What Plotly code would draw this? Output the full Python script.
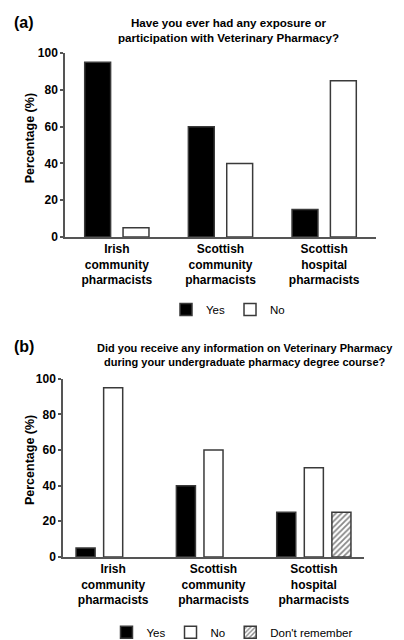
import plotly.graph_objects as go

# ---- data ----
categories = ["Irish<br>community<br>pharmacists",
              "Scottish<br>community<br>pharmacists",
              "Scottish<br>hospital<br>pharmacists"]
a_yes = [95, 60, 15]
a_no = [5, 40, 85]
b_yes = [5, 40, 25]
b_no = [95, 60, 50]
b_dont = [None, None, 25]
y_ticks = [0, 20, 40, 60, 80, 100]

FONT = "Arial, Liberation Sans, sans-serif"
EDGE = "#3a3a3a"
AX = "#555555"
W, H = 404, 640
OFF = 8  # page body margin


def px(x):
    return (x - OFF) / W


def py(y):
    return 1 - (y - OFF) / H


fig = go.Figure()

# panel (a)
fig.add_trace(go.Bar(x=categories, y=a_yes, name="Yes", width=0.25, offset=-0.31,
                     marker=dict(color="black", line=dict(color=EDGE, width=1.5)),
                     xaxis="x", yaxis="y", legend="legend"))
fig.add_trace(go.Bar(x=categories, y=a_no, name="No", width=0.25, offset=0.06,
                     marker=dict(color="white", line=dict(color=EDGE, width=1.5)),
                     xaxis="x", yaxis="y", legend="legend"))

# panel (b)
fig.add_trace(go.Bar(x=categories, y=b_yes, name="Yes", width=0.19, offset=-0.37,
                     marker=dict(color="black", line=dict(color=EDGE, width=1.5)),
                     xaxis="x2", yaxis="y2", legend="legend2"))
fig.add_trace(go.Bar(x=categories, y=b_no, name="No", width=0.19, offset=-0.095,
                     marker=dict(color="white", line=dict(color=EDGE, width=1.5)),
                     xaxis="x2", yaxis="y2", legend="legend2"))
fig.add_trace(go.Bar(x=categories, y=b_dont, name="Don't remember", width=0.19, offset=0.18,
                     marker=dict(color="white", line=dict(color=EDGE, width=1.5),
                                 pattern=dict(shape="/", fgcolor="#111111", bgcolor="white",
                                              size=4, solidity=0.45)),
                     xaxis="x2", yaxis="y2", legend="legend2"))

xcommon = dict(type="category", range=[-0.5, 2.5], showline=True, linecolor=AX, linewidth=1.5,
               ticks="", showgrid=False, zeroline=False,
               tickfont=dict(family=FONT, size=12, color="black", weight="bold"))
ycommon = dict(range=[0, 100], tickvals=y_ticks, showline=True, linecolor=AX, linewidth=1.5,
               ticks="outside", ticklen=3, tickcolor=AX, tickwidth=1.5, showgrid=False,
               zeroline=False, tickfont=dict(family=FONT, size=12, color="black", weight="bold"))

fig.update_layout(
    width=W, height=H,
    margin=dict(l=0, r=0, t=0, b=0),
    paper_bgcolor="white", plot_bgcolor="white",
    barmode="overlay",
    font=dict(family=FONT, color="black"),
    xaxis=dict(domain=[px(65), px(376)], anchor="y", **xcommon),
    yaxis=dict(domain=[py(235), py(47)], anchor="x", **ycommon),
    xaxis2=dict(domain=[px(63), px(364)], anchor="y2", **xcommon),
    yaxis2=dict(domain=[py(562), py(380)], anchor="x2", **ycommon),
    legend=dict(orientation="h", x=px(228), xanchor="center", y=py(309), yanchor="middle",
                font=dict(family=FONT, size=11.5, color="black"), itemwidth=30,
                bgcolor="rgba(0,0,0,0)"),
    legend2=dict(orientation="h", x=px(232), xanchor="center", y=py(639), yanchor="middle",
                 font=dict(family=FONT, size=11.5, color="black"), itemwidth=30,
                 bgcolor="rgba(0,0,0,0)"),
    annotations=[
        dict(text="<b>(a)</b>", x=px(12), y=py(16), xref="paper", yref="paper",
             xanchor="left", yanchor="middle", showarrow=False, font=dict(size=16)),
        dict(text="<b>Have you ever had any exposure or<br>participation with Veterinary Pharmacy?</b>",
             x=px(228), y=py(23), xref="paper", yref="paper", xanchor="center", yanchor="middle",
             showarrow=False, font=dict(size=11.6)),
        dict(text="<b>Percentage (%)</b>", x=px(30), y=py(134), xref="paper", yref="paper",
             xanchor="center", yanchor="middle", textangle=-90, showarrow=False, font=dict(size=12.5)),
        dict(text="<b>(b)</b>", x=px(12), y=py(347), xref="paper", yref="paper",
             xanchor="left", yanchor="middle", showarrow=False, font=dict(size=16)),
        dict(text="<b>Did you receive any information on Veterinary Pharmacy<br>during your undergraduate pharmacy degree course?</b>",
             x=px(245), y=py(356), xref="paper", yref="paper", xanchor="center", yanchor="middle",
             showarrow=False, font=dict(size=11)),
        dict(text="<b>Percentage (%)</b>", x=px(30), y=py(463), xref="paper", yref="paper",
             xanchor="center", yanchor="middle", textangle=-90, showarrow=False, font=dict(size=12.5)),
    ],
)

fig.write_html("out.html")
